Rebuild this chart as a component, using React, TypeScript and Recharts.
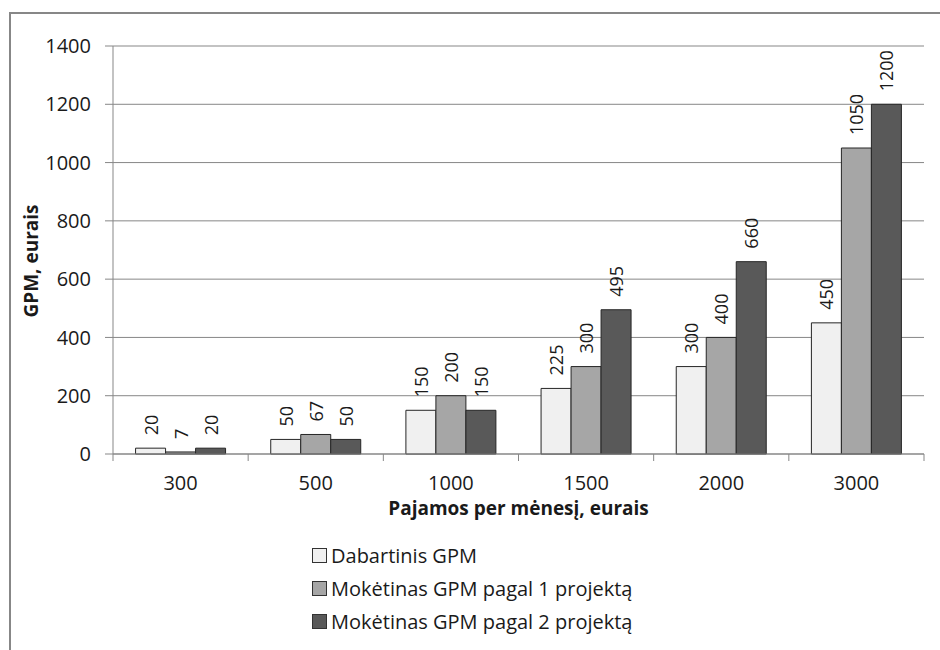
import React from 'react';
import { BarChart, Bar, XAxis, YAxis, CartesianGrid, Legend } from 'recharts';

const categories = ['300', '500', '1000', '1500', '2000', '3000'];
const dabartinis = [20, 50, 150, 225, 300, 450];
const projektas1 = [7, 67, 200, 300, 400, 1050];
const projektas2 = [20, 50, 150, 495, 660, 1200];
const yTicks = [0, 200, 400, 600, 800, 1000, 1200, 1400];
const seriesNames = [
  'Dabartinis GPM',
  'Mokėtinas GPM pagal 1 projektą',
  'Mokėtinas GPM pagal 2 projektą',
];
const seriesColors = ['#f0f0f0', '#a6a6a6', '#595959'];

const FONT = '"Open Sans", "Noto Sans", sans-serif';
const GRID = '#878787';
const TEXT = '#1a1a1a';

const data = categories.map((c, i) => ({
  cat: c,
  s0: dabartinis[i],
  s1: projektas1[i],
  s2: projektas2[i],
}));

const renderBarLabel = (props: any) => {
  const { x, y, width, value } = props;
  const cx = Number(x) + Number(width) / 2;
  const ty = Number(y) - 13;
  return (
    <text
      x={cx}
      y={ty}
      transform={`rotate(-90 ${cx} ${ty})`}
      textAnchor="start"
      dominantBaseline="central"
      fontSize={18}
      fontFamily={FONT}
      fill={TEXT}
    >
      {value}
    </text>
  );
};

const XTick = (props: any) => {
  const { x, y, payload, index, visibleTicksCount } = props;
  const half = payload && typeof payload.offset === 'number' && payload.offset > 0 ? payload.offset : 811 / 12;
  const left = x - half;
  const right = x + half;
  return (
    <g>
      <line x1={left} x2={left} y1={y} y2={y + 7} stroke={GRID} />
      {index === visibleTicksCount - 1 && <line x1={right} x2={right} y1={y} y2={y + 7} stroke={GRID} />}
      <text x={x} y={y + 22} dy="0.71em" textAnchor="middle" fontSize={20} fontFamily={FONT} fill={TEXT}>
        {payload.value}
      </text>
    </g>
  );
};

const YTitle = (props: any) => {
  const vb = props.viewBox || { x: 53, y: 46, width: 60, height: 408 };
  const cx = 31;
  const cy = vb.y + vb.height / 2 + 11;
  return (
    <text
      x={cx}
      y={cy}
      transform={`rotate(-90 ${cx} ${cy})`}
      textAnchor="middle"
      dominantBaseline="central"
      fontSize={19}
      fontWeight="bold"
      fontFamily={FONT}
      fill={TEXT}
    >
      GPM, eurais
    </text>
  );
};

const XTitle = (props: any) => {
  const vb = props.viewBox || { x: 113, y: 454, width: 811, height: 70 };
  const cx = vb.x + vb.width / 2;
  const cy = vb.y + 61;
  return (
    <text x={cx} y={cy} textAnchor="middle" fontSize={19} fontWeight="bold" fontFamily={FONT} fill={TEXT}>
      Pajamos per mėnesį, eurais
    </text>
  );
};

const LegendContent = (props: any) => {
  const payload = (props.payload || []) as any[];
  return (
    <div style={{ fontFamily: FONT, fontSize: 20, color: TEXT }}>
      {payload.map((p: any, i: number) => (
        <div key={i} style={{ display: 'flex', alignItems: 'center', height: 33, whiteSpace: 'nowrap' }}>
          <span
            style={{
              display: 'inline-block',
              width: 13,
              height: 13,
              background: p.color,
              border: '1px solid #333',
              marginRight: 4,
            }}
          />
          <span>{p.value}</span>
        </div>
      ))}
    </div>
  );
};

export default function App() {
  return (
    <div style={{ position: 'absolute', left: 0, top: 0, width: 940, height: 650, background: '#fff', overflow: 'hidden' }}>
      <div
        style={{
          position: 'absolute',
          left: 9,
          top: 12,
          width: 940,
          height: 650,
          borderLeft: `2px solid ${GRID}`,
          borderTop: `2px solid ${GRID}`,
        }}
      />
      <div style={{ position: 'absolute', left: 0, top: 0 }}>
        <BarChart
          width={940}
          height={650}
          data={data}
          margin={{ top: 46, right: 16, left: 53, bottom: 126 }}
          barCategoryGap="16.7%"
          barGap={0}
        >
          <CartesianGrid vertical={false} stroke={GRID} strokeDasharray="" />
          <XAxis
            dataKey="cat"
            height={70}
            tickSize={0}
            tickMargin={0}
            tickLine={false}
            axisLine={{ stroke: GRID }}
            tick={<XTick />}
            interval={0}
            label={<XTitle />}
          />
          <YAxis
            width={60}
            domain={[0, 1400]}
            ticks={yTicks}
            interval={0}
            tickSize={8}
            tickMargin={14}
            tickLine={{ stroke: GRID }}
            axisLine={{ stroke: GRID }}
            tick={{ fontSize: 20, fontFamily: FONT, fill: TEXT }}
            label={<YTitle />}
          />
          <Legend
            layout="horizontal"
            verticalAlign="middle"
            align="center"
            wrapperStyle={{ left: 312, top: 539, width: 'auto', height: 'auto' }}
            content={<LegendContent />}
          />
          <Bar dataKey="s0" name={seriesNames[0]} fill={seriesColors[0]} stroke="#262626" strokeWidth={1} isAnimationActive={false} label={renderBarLabel} />
          <Bar dataKey="s1" name={seriesNames[1]} fill={seriesColors[1]} stroke="#262626" strokeWidth={1} isAnimationActive={false} label={renderBarLabel} />
          <Bar dataKey="s2" name={seriesNames[2]} fill={seriesColors[2]} stroke="#262626" strokeWidth={1} isAnimationActive={false} label={renderBarLabel} />
        </BarChart>
      </div>
    </div>
  );
}
